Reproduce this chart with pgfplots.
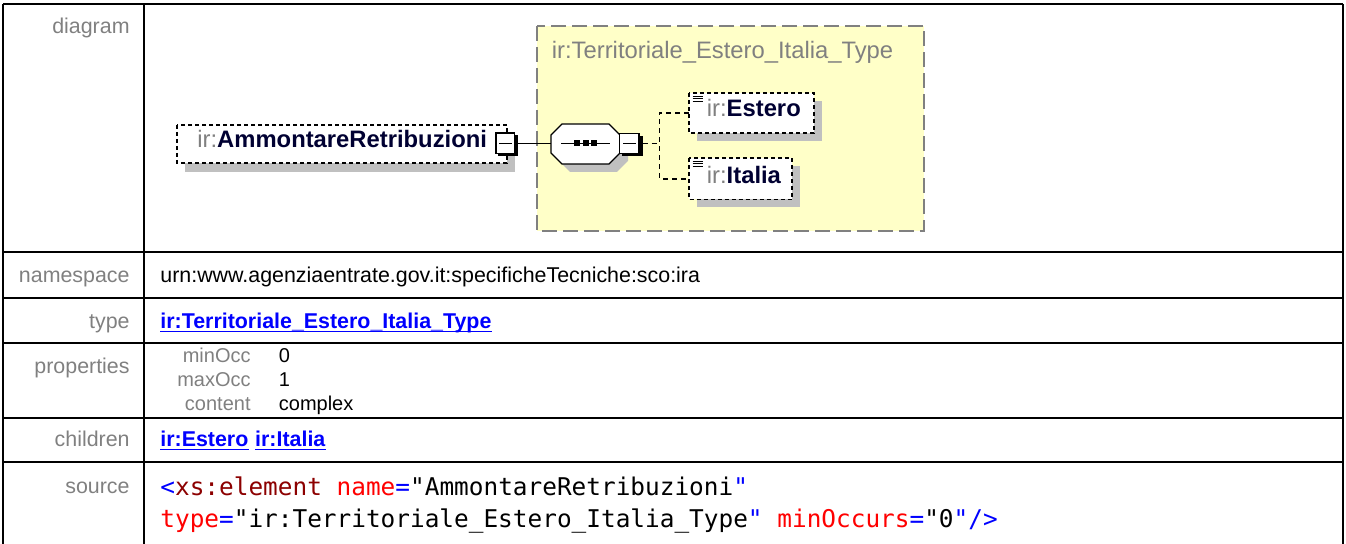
\documentclass[border=0pt]{standalone}
\usepackage{pgfplots}
\pgfplotsset{compat=1.18}
\usepackage{fontspec}
\setmainfont{Liberation Sans}
\newfontfamily\srcmono{DejaVu Sans Mono}
\definecolor{labgray}{RGB}{128,128,128}
\definecolor{shadowgray}{RGB}{192,192,192}
\definecolor{typeyellow}{RGB}{255,255,200}
\definecolor{navy}{RGB}{0,0,50}
\definecolor{linkblue}{RGB}{0,0,255}
\definecolor{srcmaroon}{RGB}{140,0,0}
\definecolor{srcred}{RGB}{255,0,0}
\newcommand\lab{\fontsize{10.7}{12}\selectfont}
\newcommand\prp{\fontsize{10}{11}\selectfont}
\newcommand\dia{\fontsize{11.9}{13}\selectfont}
\newcommand\src{\srcmono\fontsize{12.2}{14}\selectfont}
\tikzset{lbl/.style={anchor=mid east, inner sep=0, text=labgray, font=\lab},
         val/.style={anchor=mid west, inner sep=0, font=\lab},
         grid/.style={line width=1pt, black}}
\begin{document}
\begin{tikzpicture}
\begin{axis}[
  width=673pt, height=272pt, scale only axis,
  xmin=0, xmax=1346, ymin=0, ymax=544, y dir=reverse,
  hide axis, clip=false,
]
% ---------- table grid ----------
\draw[grid] (3,4) -- (1343,4);
\draw[grid] (3,4) -- (3,544);
\draw[grid] (1343,4) -- (1343,544);
\draw[grid] (144,4) -- (144,544);
\draw[grid] (3,251.7) -- (1343,251.7);
\draw[grid] (3,298.3) -- (1343,298.3);
\draw[grid] (3,342.7) -- (1343,342.7);
\draw[grid] (3,418.3) -- (1343,418.3);
\draw[grid] (3,461.7) -- (1343,461.7);
% ---------- labels ----------
\node[lbl] at (130,28) {diagram};
\node[lbl] at (130,277) {namespace};
\node[lbl] at (130,323) {type};
\node[lbl] at (130,368) {properties};
\node[lbl] at (130,441) {children};
\node[lbl] at (130,488) {source};
% ---------- namespace ----------
\node[val] at (160,277) {urn:www.agenziaentrate.gov.it:specificheTecniche:sco:ira};
% ---------- type ----------
\node[val, font=\lab\bfseries, text=linkblue] (tl) at (160,323) {ir:Territoriale\_Estero\_Italia\_Type};
\draw[linkblue, line width=0.9pt] ([yshift=-1.6pt]tl.base west) -- ([yshift=-1.6pt]tl.base east);
% ---------- properties ----------
\node[lbl, font=\prp] at (251,357) {minOcc};
\node[lbl, font=\prp] at (251,381) {maxOcc};
\node[lbl, font=\prp] at (251,405) {content};
\node[val, font=\prp] at (278.5,357) {0};
\node[val, font=\prp] at (278.5,381) {1};
\node[val, font=\prp] at (278.5,405) {complex};
% ---------- children ----------
\node[val, font=\lab\bfseries, text=linkblue] (c1) at (160,441) {ir:Estero};
\node[anchor=base west, inner sep=0, font=\lab\bfseries, text=linkblue] (c2) at ([xshift=3pt]c1.base east) {ir:Italia};
\draw[linkblue, line width=0.9pt] ([yshift=-1.6pt]c1.base west) -- ([yshift=-1.6pt]c1.base east);
\draw[linkblue, line width=0.9pt] ([yshift=-1.6pt]c2.base west) -- ([yshift=-1.6pt]c2.base east);
% ---------- source ----------
\node[anchor=mid west, inner sep=0, font=\src] at (160,490) {\textcolor{linkblue}{<}\textcolor{srcmaroon}{xs:element} \textcolor{srcred}{name}\textcolor{linkblue}{=}"AmmontareRetribuzioni\textcolor{linkblue}{"}};
\node[anchor=mid west, inner sep=0, font=\src] at (160,522) {\textcolor{srcred}{type}\textcolor{linkblue}{=}"ir:Territoriale\_Estero\_Italia\_Type\textcolor{linkblue}{"} \textcolor{srcred}{minOccurs}\textcolor{linkblue}{=}"0\textcolor{linkblue}{"/>}};
% ---------- diagram: complex type box ----------
\fill[typeyellow] (537,26) rectangle (924,231);
\draw[labgray, line width=1pt, dash pattern=on 7.5pt off 3pt] (537,26) rectangle (924,231);
\node[anchor=mid west, inner sep=0, font=\dia, text=labgray] at (551.5,53) {ir:Territoriale\_Estero\_Italia\_Type};
% ---------- element box ----------
\fill[shadowgray] (185,133) rectangle (515,172);
\fill[white] (177,125) rectangle (507,163);
\draw[black, line width=0.75pt, dash pattern=on 2pt off 1.5pt] (177,125) rectangle (507,163);
\node[anchor=mid west, inner sep=0, font=\dia] at (197,142.5) {\textcolor{labgray}{ir:}\textcolor{navy}{\bfseries AmmontareRetribuzioni}};
% minus box of element
\fill[black] (498,135) rectangle (518,156.5);
\filldraw[fill=white, draw=black, line width=0.7pt] (496,133) rectangle (514.5,153.5);
\draw[black, line width=0.7pt] (499,143.4) -- (511.5,143.4);
% connector
\draw[black, line width=0.6pt] (518,143.4) -- (551,143.4);
% ---------- sequence compositor ----------
\fill[shadowgray] (559,143) -- (570,132) -- (617,132) -- (628,143) -- (628,161) -- (617,172) -- (570,172) -- (559,161) -- cycle;
\filldraw[fill=white, draw=black, line width=0.6pt] (551,135) -- (562,124) -- (609,124) -- (620,135) -- (620,153) -- (609,164) -- (562,164) -- (551,153) -- cycle;
\draw[black, line width=0.6pt] (561,143.4) -- (610,143.4);
\fill[black] (574,140.4) rectangle (580,146.4);
\fill[black] (582.5,140.4) rectangle (588.5,146.4);
\fill[black] (591,140.4) rectangle (597,146.4);
% minus box of compositor
\fill[black] (622,136) rectangle (642.5,156.5);
\filldraw[fill=white, draw=black, line width=0.7pt] (619.5,133.5) rectangle (639,153.5);
\draw[black, line width=0.7pt] (623,143.4) -- (636,143.4);
% dashed connectors
\draw[black, line width=0.6pt, dash pattern=on 2.5pt off 2pt] (642.5,143.4) -- (659.5,143.4);
\draw[black, line width=0.6pt, dash pattern=on 2.5pt off 2pt] (689,113) -- (659.5,113) -- (659.5,179) -- (689,179);
% ---------- child: Estero ----------
\fill[shadowgray] (697,101) rectangle (822,141);
\fill[white] (689,93) rectangle (814,133);
\draw[black, line width=0.75pt, dash pattern=on 2pt off 1.5pt] (689,93) rectangle (814,133);
\draw[black, line width=0.4pt] (692.5,96) -- (702.5,96);
\draw[black, line width=0.4pt] (692.5,98.5) -- (702.5,98.5);
\draw[black, line width=0.4pt] (692.5,101) -- (702.5,101);
\node[anchor=mid west, inner sep=0, font=\dia] at (706.5,111.5) {\textcolor{labgray}{ir:}\textcolor{navy}{\bfseries Estero}};
% ---------- child: Italia ----------
\fill[shadowgray] (697,166) rectangle (800,207);
\fill[white] (689,158) rectangle (792,199.5);
\draw[black, line width=0.75pt, dash pattern=on 2pt off 1.5pt] (689,158) rectangle (792,199.5);
\draw[black, line width=0.4pt] (692.5,161) -- (702.5,161);
\draw[black, line width=0.4pt] (692.5,163.5) -- (702.5,163.5);
\draw[black, line width=0.4pt] (692.5,166) -- (702.5,166);
\node[anchor=mid west, inner sep=0, font=\dia] at (706.5,178.5) {\textcolor{labgray}{ir:}\textcolor{navy}{\bfseries Italia}};
\end{axis}
\pgfresetboundingbox
\path[use as bounding box] (0,0) rectangle (673pt,272pt);
\end{tikzpicture}
\end{document}
